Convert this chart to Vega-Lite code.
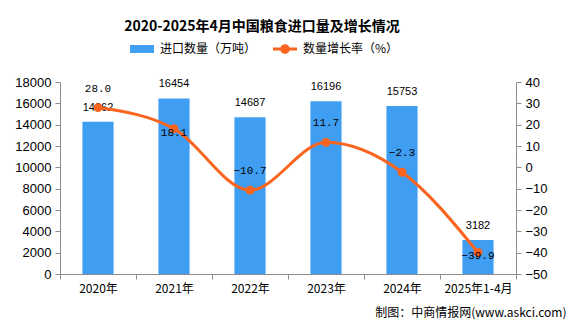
{
  "$schema": "https://vega.github.io/schema/vega-lite/v6.json",
  "autosize": {"type": "none"},
  "padding": {"left": 60, "top": 82, "right": 60, "bottom": 53},
  "width": 456,
  "height": 192,
  "background": "white",
  "title": {
    "text": "2020-2025年4月中国粮食进口量及增长情况",
    "font": "Noto Sans CJK SC",
    "fontSize": 14,
    "fontWeight": "bold",
    "color": "#000000",
    "anchor": "middle",
    "dx": -26,
    "offset": 3
  },
  "config": {
    "view": {"stroke": null},
    "axis": {
      "grid": false,
      "domainColor": "#8c8c8c",
      "tickColor": "#8c8c8c",
      "labelColor": "#000000",
      "labelFont": "Liberation Sans",
      "labelFontSize": 13,
      "tickSize": 5
    },
    "text": {"font": "Liberation Sans", "fontSize": 11, "color": "#000000"}
  },
  "data": {
    "values": [
      {"year": "2020年", "import": 14262, "growth": 28.0},
      {"year": "2021年", "import": 16454, "growth": 18.1},
      {"year": "2022年", "import": 14687, "growth": -10.7},
      {"year": "2023年", "import": 16196, "growth": 11.7},
      {"year": "2024年", "import": 15753, "growth": -2.3},
      {"year": "2025年1-4月", "import": 3182, "growth": -39.9}
    ]
  },
  "encoding": {
    "x": {
      "field": "year",
      "type": "nominal",
      "sort": null,
      "scale": {"paddingInner": 0, "paddingOuter": 0},
      "axis": {
        "title": "制图：中商情报网(www.askci.com)",
        "titleFont": "Noto Sans CJK SC",
        "titleFontSize": 12,
        "titleFontWeight": "normal",
        "titleColor": "#000000",
        "titleAnchor": "end",
        "titleAlign": "right",
        "titleX": 506,
        "titleY": 33,
        "labelAngle": 0,
        "labelFont": "Noto Sans CJK SC",
        "labelFontSize": 12,
        "labelPadding": 4,
        "tickBand": "extent"
      }
    }
  },
  "layer": [
    {
      "encoding": {
        "y": {
          "field": "import",
          "type": "quantitative",
          "scale": {"domain": [0, 18000], "nice": false},
          "axis": {
            "title": null,
            "orient": "left",
            "format": "d",
            "values": [0, 2000, 4000, 6000, 8000, 10000, 12000, 14000, 16000, 18000],
            "labelPadding": 4
          }
        }
      },
      "layer": [
        {
          "mark": {"type": "bar", "width": {"band": 0.41}},
          "encoding": {
            "color": {
              "datum": "进口数量（万吨）",
              "type": "nominal",
              "scale": {"domain": ["进口数量（万吨）", "数量增长率（%）"], "range": ["#409EF2", "#FA641E"]},
              "legend": {
                "title": null,
                "orient": "none",
                "direction": "horizontal",
                "legendX": 70,
                "legendY": -45,
                "labelFont": "Noto Sans CJK SC",
                "labelFontSize": 12,
                "labelColor": "#000000",
                "labelOffset": 6,
                "columnPadding": 16,
                "symbolSize": 576,
                "encode": {
                  "symbols": {
                    "update": {
                      "shape": {"signal": "datum.value === '进口数量（万吨）' ? 'M-1,-0.33H1V0.33H-1Z' : 'M-1,-0.13H1V0.13H-1Z M0.4,0 A0.4,0.4 0 1,1 -0.4,0 A0.4,0.4 0 1,1 0.4,0 Z'"},
                      "fill": {"signal": "datum.value === '进口数量（万吨）' ? '#409EF2' : '#FA641E'"},
                      "stroke": {"value": "transparent"},
                      "strokeWidth": {"value": 0},
                      "opacity": {"value": 1},
                      "fillOpacity": {"value": 1}
                    }
                  }
                }
              }
            }
          }
        },
        {
          "mark": {"type": "text", "baseline": "bottom", "dy": -9},
          "encoding": {"text": {"field": "import", "type": "quantitative", "format": "d"}}
        }
      ]
    },
    {
      "encoding": {
        "y": {
          "field": "growth",
          "type": "quantitative",
          "scale": {"domain": [-50, 40], "nice": false},
          "axis": {
            "title": null,
            "orient": "right",
            "values": [-50, -40, -30, -20, -10, 0, 10, 20, 30, 40],
            "labelPadding": 4
          }
        }
      },
      "layer": [
        {
          "mark": {
            "type": "line",
            "interpolate": "monotone",
            "strokeWidth": 3,
            "point": {"filled": true, "size": 80, "color": "#FA641E"}
          },
          "encoding": {
            "color": {"datum": "数量增长率（%）", "type": "nominal"}
          }
        },
        {
          "transform": [{"filter": "datum.year !== '2021年' && datum.year !== '2025年1-4月'"}],
          "mark": {"type": "text", "baseline": "middle", "dy": -19, "font": "Liberation Mono", "fontSize": 11},
          "encoding": {"text": {"field": "growth", "type": "quantitative", "format": ".1f"}}
        },
        {
          "transform": [{"filter": "datum.year === '2021年' || datum.year === '2025年1-4月'"}],
          "mark": {"type": "text", "baseline": "middle", "dy": 4, "font": "Liberation Mono", "fontSize": 11},
          "encoding": {"text": {"field": "growth", "type": "quantitative", "format": ".1f"}}
        }
      ]
    }
  ],
  "resolve": {"scale": {"y": "independent"}}
}
